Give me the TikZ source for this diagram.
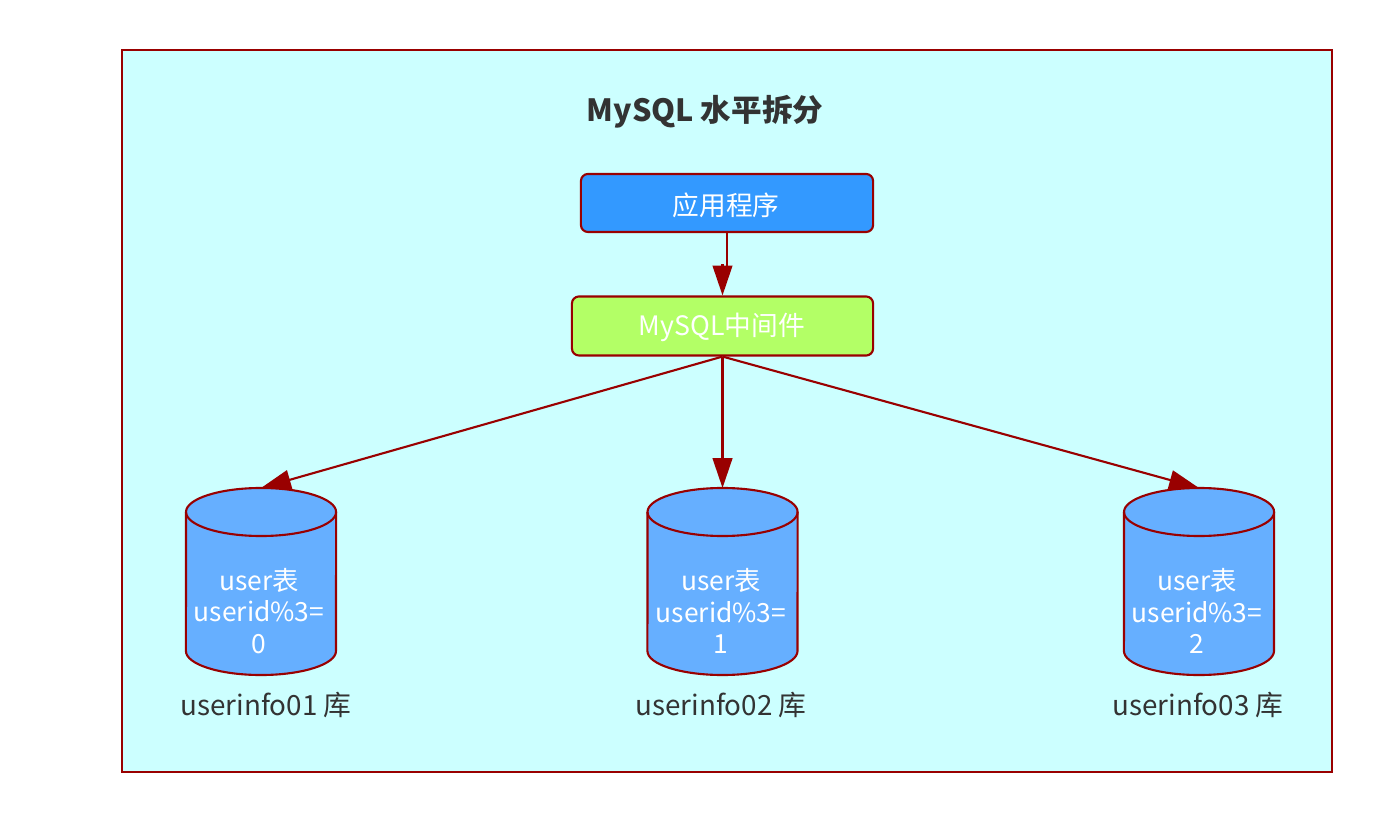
\documentclass[tikz,border=0pt]{standalone}
\usepackage{fontspec}
\setmainfont{Noto Sans CJK SC}
\usetikzlibrary{arrows.meta}
\definecolor{redd}{RGB}{153,0,0}
\definecolor{cyand}{RGB}{204,255,255}
\definecolor{blued}{RGB}{51,153,255}
\definecolor{greend}{RGB}{179,255,102}
\definecolor{bluedb}{RGB}{102,175,255}
\definecolor{textd}{RGB}{51,51,51}
\tikzset{
    boxd/.style = {draw = redd, line width = 0.6pt, rounded corners = 2pt, text = white, font = \fontsize{7.6pt}{9pt}\selectfont, inner sep = 0pt},
    dbd/.style = {draw = redd, line width = 0.6pt, fill = bluedb},
    linkd/.style = {draw = redd, line width = 0.6pt, -{Triangle[length = 8.5pt, width = 5.6pt]}},
}
\begin{document}
\begin{tikzpicture}[x = 0.01cm, y = -0.01cm]
    \useasboundingbox (0,0) rectangle (1398,822);
    \draw[draw = redd, line width = 0.6pt, fill = cyand] (122,50) rectangle (1332,772);
    \node[text = textd, font = \bfseries\fontsize{8.7pt}{10pt}\selectfont] (title) at (705,112) {MySQL 水平拆分};
    \node[boxd, fill = blued, minimum width = 2.92cm, minimum height = 0.58cm] (app) at (727,203) {};
    \node[text = white, font = \fontsize{7.6pt}{9pt}\selectfont] (apptext) at (726,205) {应用程序};
    \node[boxd, fill = greend, minimum width = 3.01cm, minimum height = 0.59cm] (middle) at (722.5,326) {};
    \node[text = white, font = \fontsize{7.6pt}{9pt}\selectfont] (middletext) at (722,327) {MySQL中间件};
    \foreach \name/\x/\tx/\ly/\i in {1/261/259/266/0, 2/722.5/721/721/1, 3/1199/1197/1198/2}
        {
        \draw[dbd] ({\x-75},512) arc[start angle = 180, end angle = 0, x radius = 0.75cm, y radius = 0.24cm] -- ({\x+75},651) arc[start angle = 0, end angle = -180, x radius = 0.75cm, y radius = 0.24cm] -- cycle;
        \draw[dbd, fill = none] ({\x-75},512) arc[start angle = 180, end angle = 360, x radius = 0.75cm, y radius = 0.24cm];
        \coordinate (db\name) at (\x,488);
        \node[text = white, align = center, font = \fontsize{7.5pt}{8.9pt}\selectfont] (user\name) at (\tx,611) {user表\\userid\%3=\\\i};
        \node[text = textd, font = \fontsize{7.9pt}{9pt}\selectfont] (info\name) at (\ly,705) {userinfo0\name{} 库};
        \draw[linkd] (middle.south) -- (db\name);
        }
    \draw[draw = redd, line width = 0.6pt] (app.south) -- ++(0,36);
    \draw[linkd] ([yshift = 0.31cm]middle.north) -- (middle.north);
\end{tikzpicture}
\end{document}
